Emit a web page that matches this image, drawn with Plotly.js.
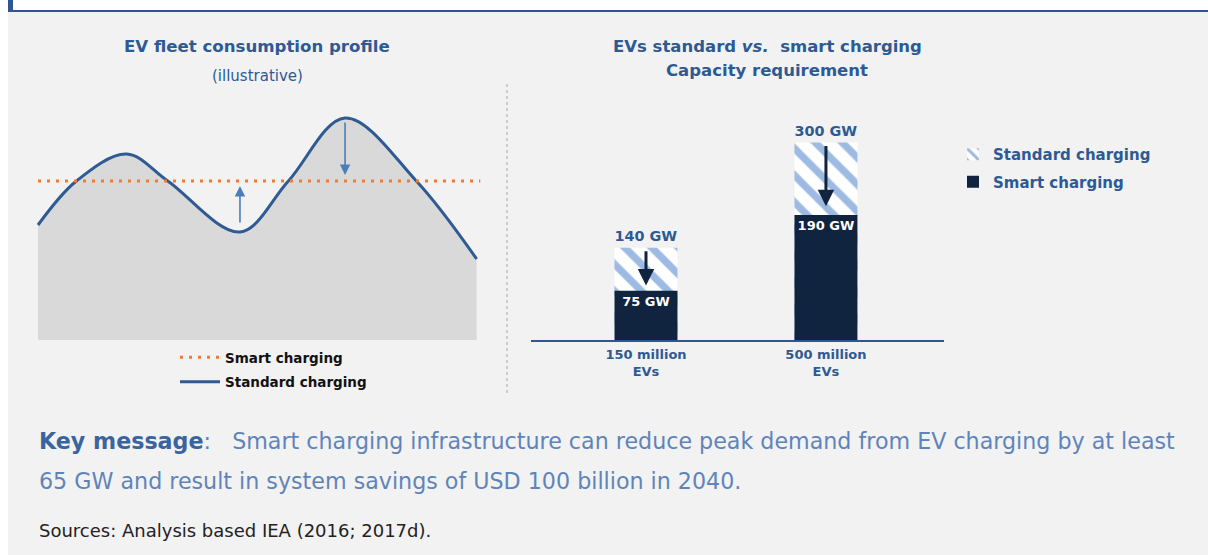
<!DOCTYPE html>
<html>
<head>
<meta charset="utf-8">
<script src="https://cdn.plot.ly/plotly-3.0.1.min.js"></script>
<style>html,body{margin:0;padding:0;background:#fff;}#chart{width:1208px;height:555px;}</style>
</head>
<body>
<div id="chart"></div>
<script>
// ---- Left panel: illustrative EV fleet consumption profile ----
const hours = [0, 2.1, 4.85, 7.1, 11.05, 13.7, 16.8, 20.7, 24];
const standardLoad = [115, 159, 186, 159, 108, 159, 222, 159, 81];
const smartLevel = 159;
const smartSpan = [0, 24.2];

// ---- Right panel: capacity requirement ----
const fleets = ['150 million<br>EVs', '500 million<br>EVs'];
const standardGW = [140, 300];
const smartGW = [75, 190];

const W = 1208, H = 555;
const px = v => v / W;
const py = v => 1 - v / H;

const BLUE = '#2e5a94';
const NAVY = '#10243f';
const FONT = 'DejaVu Sans, sans-serif';

const traces = [
  {
    x: hours, y: standardLoad, type: 'scatter', mode: 'lines',
    line: {shape: 'spline', smoothing: 1, color: 'rgba(0,0,0,0)', width: 0},
    fill: 'tozeroy', fillcolor: '#d9d9d9', showlegend: false,
    xaxis: 'x', yaxis: 'y', hoverinfo: 'skip'
  },
  {
    x: hours, y: standardLoad, type: 'scatter', mode: 'lines',
    line: {shape: 'spline', smoothing: 1, color: '#2f5a94', width: 3},
    name: 'Standard charging', legend: 'legend', legendrank: 2, legendgroup: 'std',
    xaxis: 'x', yaxis: 'y', hoverinfo: 'skip'
  },
  {
    x: smartSpan, y: smartSpan.map(() => smartLevel), type: 'scatter', mode: 'lines',
    line: {color: '#ed7d31', width: 3, dash: '3px,6px'},
    name: 'Smart charging', legend: 'legend', legendrank: 1, legendgroup: 'smart',
    xaxis: 'x', yaxis: 'y', hoverinfo: 'skip'
  },
  {
    x: fleets, y: standardGW, type: 'bar', width: 0.35,
    name: 'Standard charging', legend: 'legend2', legendgroup: 'bstd',
    marker: {color: '#ffffff', line: {width: 0},
      pattern: {shape: '\\', fgcolor: '#9dbbe2', bgcolor: '#ffffff', size: 19, solidity: 0.38, fillmode: 'replace'}},
    texttemplate: '%{y} GW', textposition: 'outside', cliponaxis: false,
    textfont: {family: FONT, size: 16, color: BLUE, weight: 'bold'},
    xaxis: 'x2', yaxis: 'y2', hoverinfo: 'skip'
  },
  {
    x: fleets, y: smartGW, type: 'bar', width: 0.35,
    name: 'Smart charging', legend: 'legend2', legendgroup: 'bsmart',
    marker: {color: NAVY, line: {width: 0}},
    texttemplate: '%{y} GW', textposition: 'inside', insidetextanchor: 'end', textangle: 0,
    constraintext: 'none',
    insidetextfont: {family: FONT, size: 13, color: '#ffffff', weight: 'bold'},
    xaxis: 'x2', yaxis: 'y2', hoverinfo: 'skip'
  }
];

// arrows: derived from data
const interior = standardLoad.slice(1, -1);
const troughIdx = 1 + interior.indexOf(Math.min(...interior));
const peakIdx = standardLoad.indexOf(Math.max(...standardLoad));

function txt(x, y, text, font, xanchor) {
  return {xref: 'paper', yref: 'paper', x: px(x), y: py(y), text: text, showarrow: false,
          xanchor: xanchor || 'center', yanchor: 'middle', font: font};
}

const annotations = [
  {xref: 'x', yref: 'y', axref: 'x', ayref: 'y',
   x: hours[troughIdx], y: smartLevel - 5, ax: hours[troughIdx], ay: standardLoad[troughIdx] + 8,
   text: '', showarrow: true, arrowhead: 2, arrowsize: 1.3, arrowwidth: 1.6, arrowcolor: '#4a7ebb', standoff: 0},
  {xref: 'x', yref: 'y', axref: 'x', ayref: 'y',
   x: hours[peakIdx], y: smartLevel + 6, ax: hours[peakIdx], ay: standardLoad[peakIdx] - 3,
   text: '', showarrow: true, arrowhead: 2, arrowsize: 1.3, arrowwidth: 1.6, arrowcolor: '#4a7ebb', standoff: 0},
  txt(257, 46, '<b>EV fleet consumption profile</b>', {family: FONT, size: 16.6, color: BLUE}),
  txt(257, 76, '(illustrative)', {family: FONT, size: 15, color: BLUE}),
  txt(767, 46, '<b>EVs standard <i>vs.</i>  smart charging</b>', {family: FONT, size: 16.5, color: BLUE}),
  txt(767, 70, '<b>Capacity requirement</b>', {family: FONT, size: 16.5, color: BLUE}),
  txt(37, 441, '<b><span style="color:#3a64a0">Key message</span></b>:   Smart charging infrastructure can reduce peak demand from EV charging by at least',
      {family: FONT, size: 22.2, color: '#5f84ba'}, 'left'),
  txt(37, 481, '65 GW and result in system savings of USD 100 billion in 2040.',
      {family: FONT, size: 22.2, color: '#5f84ba'}, 'left'),
  txt(37, 530, 'Sources: Analysis based IEA (2016; 2017d).', {family: FONT, size: 18, color: '#222222'}, 'left')
];

// bar arrows derived from data
fleets.forEach((f, i) => {
  annotations.push({
    xref: 'x2', yref: 'y2', axref: 'x2', ayref: 'y2',
    x: f, y: smartGW[i] + 0.12 * (standardGW[i] - smartGW[i]),
    ax: f, ay: standardGW[i] - 3,
    text: '', showarrow: true, arrowhead: 2, arrowsize: 1.1, arrowwidth: 3, arrowcolor: NAVY, standoff: 0
  });
});

const shapes = [
  {type: 'rect', xref: 'paper', yref: 'paper', x0: px(8), x1: 1, y0: 0, y1: py(12),
   fillcolor: '#f2f2f2', line: {width: 0}, layer: 'below'},
  {type: 'line', xref: 'paper', yref: 'paper', x0: px(8), x1: 1, y0: py(11), y1: py(11),
   line: {color: '#2f5597', width: 2}, layer: 'below'},
  {type: 'rect', xref: 'paper', yref: 'paper', x0: px(8), x1: px(13), y0: py(12), y1: 1,
   fillcolor: '#2f5597', line: {width: 0}, layer: 'below'},
  {type: 'line', xref: 'paper', yref: 'paper', x0: px(507), x1: px(507), y0: py(84), y1: py(395),
   line: {color: '#a6a6a6', width: 1, dash: 'dot'}, layer: 'below'}
];

const layout = {
  width: W, height: H,
  margin: {l: 0, r: 0, t: 0, b: 0},
  paper_bgcolor: '#ffffff', plot_bgcolor: 'rgba(0,0,0,0)',
  font: {family: FONT},
  barmode: 'overlay',
  xaxis: {domain: [px(30), px(490)], range: [-0.438, 24.73], visible: false, fixedrange: true},
  yaxis: {domain: [py(345), py(100)], range: [-5, 240], visible: false, fixedrange: true},
  xaxis2: {domain: [px(531), px(944)], range: [-0.639, 1.656], type: 'category', anchor: 'y2',
    showline: true, linecolor: '#2f5597', linewidth: 1.5, showgrid: false, zeroline: false,
    ticks: '', ticklabelstandoff: 2,
    tickfont: {family: FONT, size: 13, color: BLUE, weight: 'bold'}, fixedrange: true},
  yaxis2: {domain: [py(340), py(100)], range: [0, 364.7], visible: false, anchor: 'x2', fixedrange: true},
  showlegend: true,
  legend: {x: px(175), y: py(342), xanchor: 'left', yanchor: 'top', bgcolor: 'rgba(0,0,0,0)',
    traceorder: 'grouped', tracegroupgap: 4, itemwidth: 40,
    font: {family: FONT, size: 13.5, color: '#111111', weight: 'bold'}, itemclick: false, itemdoubleclick: false},
  legend2: {x: px(953), y: py(138), xanchor: 'left', yanchor: 'top', bgcolor: 'rgba(0,0,0,0)',
    traceorder: 'grouped', tracegroupgap: 5,
    font: {family: FONT, size: 15, color: BLUE, weight: 'bold'}, itemclick: false, itemdoubleclick: false},
  shapes: shapes,
  annotations: annotations
};

Plotly.newPlot('chart', traces, layout, {displayModeBar: false, staticPlot: true});
</script>
</body>
</html>
